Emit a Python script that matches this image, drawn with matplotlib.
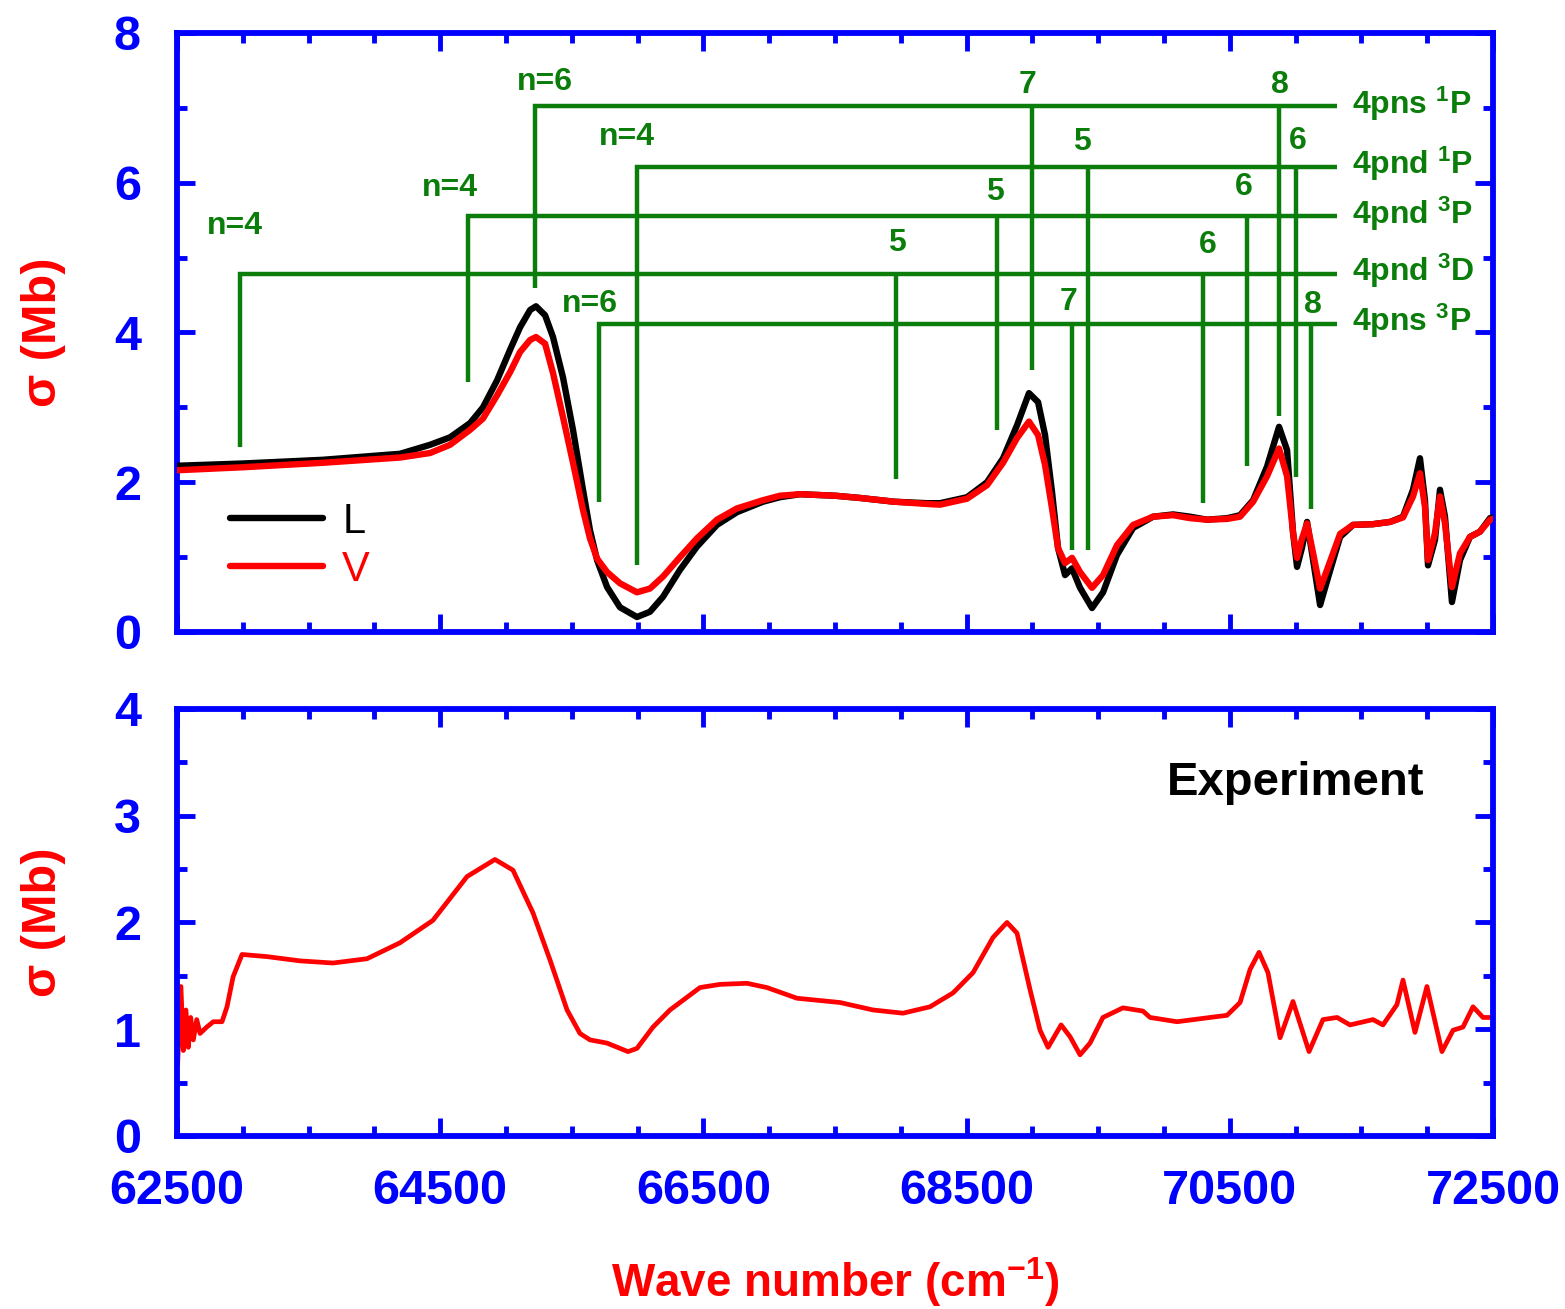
import matplotlib
matplotlib.use("Agg")
import matplotlib.pyplot as plt
from matplotlib.ticker import MultipleLocator

# ---------------------------------------------------------------- data
# theoretical cross sections, length (L) and velocity (V) gauge
theory_x = [62500, 63000, 63610, 64195, 64423, 64575, 64727, 64825, 64932, 65031,
            65107, 65183, 65228, 65297, 65357, 65433, 65509, 65585, 65638, 65692,
            65768, 65866, 65995, 66094, 66193, 66322, 66451, 66603, 66755, 66953,
            67082, 67234, 67500, 67690, 67950, 68199, 68298, 68503, 68655, 68777,
            68883, 68974, 69043, 69096, 69149, 69195, 69248, 69301, 69362, 69453,
            69537, 69643, 69765, 69917, 70069, 70198, 70327, 70480, 70578, 70677,
            70783, 70874, 70935, 70981, 71011, 71049, 71087, 71133, 71186, 71247,
            71338, 71436, 71588, 71718, 71816, 71892, 71945, 71983, 72006, 72059,
            72097, 72135, 72188, 72249, 72325, 72401, 72477, 72500]
sigma_L = [2.22, 2.25, 2.30, 2.38, 2.50, 2.60, 2.79, 3.00, 3.36, 3.77,
           4.07, 4.30, 4.35, 4.23, 3.94, 3.40, 2.70, 1.90, 1.36, 0.96,
           0.60, 0.33, 0.20, 0.27, 0.47, 0.83, 1.14, 1.43, 1.60, 1.74,
           1.80, 1.84, 1.82, 1.79, 1.74, 1.72, 1.72, 1.80, 2.00, 2.32,
           2.76, 3.19, 3.07, 2.63, 1.87, 1.12, 0.76, 0.85, 0.59, 0.32,
           0.53, 1.03, 1.39, 1.54, 1.57, 1.54, 1.50, 1.52, 1.56, 1.76,
           2.21, 2.74, 2.43, 1.32, 0.87, 1.13, 1.47, 0.96, 0.36, 0.73,
           1.27, 1.43, 1.44, 1.47, 1.54, 1.90, 2.32, 1.76, 0.89, 1.23,
           1.90, 1.54, 0.40, 0.96, 1.27, 1.34, 1.52, 1.53]
sigma_V = [2.16, 2.20, 2.26, 2.33, 2.39, 2.50, 2.70, 2.85, 3.16, 3.47,
           3.74, 3.90, 3.94, 3.85, 3.46, 2.87, 2.26, 1.63, 1.25, 0.98,
           0.80, 0.65, 0.53, 0.58, 0.74, 1.00, 1.25, 1.50, 1.65, 1.76,
           1.82, 1.84, 1.82, 1.79, 1.74, 1.71, 1.70, 1.78, 1.96, 2.26,
           2.59, 2.81, 2.63, 2.23, 1.65, 1.12, 0.92, 0.99, 0.80, 0.59,
           0.76, 1.16, 1.43, 1.54, 1.56, 1.52, 1.50, 1.51, 1.54, 1.74,
           2.08, 2.45, 2.08, 1.32, 0.99, 1.25, 1.45, 1.05, 0.58, 0.87,
           1.31, 1.43, 1.44, 1.47, 1.53, 1.81, 2.12, 1.67, 0.96, 1.32,
           1.81, 1.45, 0.60, 1.05, 1.27, 1.34, 1.50, 1.51]

# measured cross section
exp_x = [62505, 62530, 62548, 62568, 62586, 62604, 62624, 62650, 62675, 62726,
         62776, 62842, 62880, 62926, 62994, 63184, 63435, 63685, 63944, 64195,
         64445, 64704, 64916, 65053, 65205, 65334, 65464, 65562, 65638, 65767,
         65927, 65995, 66117, 66246, 66474, 66626, 66831, 66983, 67211, 67538,
         67789, 68017, 68222, 68397, 68549, 68701, 68807, 68883, 68982, 69058,
         69119, 69218, 69286, 69362, 69438, 69536, 69688, 69840, 69894, 70099,
         70350, 70479, 70578, 70654, 70722, 70790, 70882, 70980, 71102, 71208,
         71315, 71413, 71588, 71664, 71770, 71816, 71907, 71998, 72112, 72196,
         72272, 72348, 72424, 72493]
exp_sigma = [0.68, 1.40, 0.80, 1.18, 0.83, 1.11, 0.90, 1.09, 0.96, 1.02,
             1.07, 1.07, 1.21, 1.49, 1.70, 1.68, 1.64, 1.62, 1.66, 1.81,
             2.02, 2.43, 2.59, 2.49, 2.09, 1.65, 1.18, 0.96, 0.90, 0.87,
             0.79, 0.82, 1.02, 1.18, 1.39, 1.42, 1.43, 1.39, 1.29, 1.25,
             1.18, 1.15, 1.21, 1.34, 1.53, 1.86, 2.00, 1.90, 1.37, 0.99,
             0.83, 1.04, 0.93, 0.76, 0.87, 1.11, 1.20, 1.17, 1.11, 1.07,
             1.11, 1.13, 1.25, 1.56, 1.72, 1.53, 0.92, 1.26, 0.79, 1.09,
             1.11, 1.04, 1.09, 1.04, 1.23, 1.46, 0.97, 1.40, 0.79, 0.99,
             1.02, 1.21, 1.11, 1.11]

# Rydberg series: name, label level, state energies, state labels, marker ends
series_names = ["4pns $^{1}$P", "4pnd $^{1}$P", "4pnd $^{3}$P", "4pnd $^{3}$D", "4pns $^{3}$P"]
series_levels = [7.02, 6.21, 5.55, 4.78, 4.11]
series_states = [[65220, 68997, 70874],
                 [65995, 69422, 71003],
                 [64715, 68731, 70631],
                 [62979, 67964, 70296],
                 [65707, 69301, 71117]]
series_state_labels = [["n=6", "7", "8"],
                       ["n=4", "5", "6"],
                       ["n=4", "5", "6"],
                       ["n=4", "5", "6"],
                       ["n=6", "7", "8"]]
series_marker_ends = [[4.59, 3.50, 2.88],
                      [0.89, 1.09, 2.07],
                      [3.34, 2.70, 2.22],
                      [2.47, 2.04, 1.72],
                      [1.74, 1.09, 1.64]]
series_end_x = 71315

x_ticks = [62500, 64500, 66500, 68500, 70500, 72500]
x_tick_labels = ["62500", "64500", "66500", "68500", "70500", "72500"]
top_y_ticks = [0, 2, 4, 6, 8]
bottom_y_ticks = [0, 1, 2, 3, 4]

# ---------------------------------------------------------------- style
plt.rcParams["font.family"] = ["Liberation Sans", "DejaVu Sans"]
plt.rcParams["mathtext.fontset"] = "custom"
plt.rcParams["mathtext.rm"] = "Liberation Sans:bold"
plt.rcParams["mathtext.it"] = "Liberation Sans:bold"
plt.rcParams["mathtext.bf"] = "Liberation Sans:bold"

BLUE = "#0000ff"
RED = "#ff0000"
GREEN = "#0b7d0b"

fig = plt.figure(figsize=(15.65, 13.09), dpi=100)
ax1 = fig.add_axes([0.1131, 0.5172, 0.8409, 0.4576])
ax2 = fig.add_axes([0.1131, 0.1322, 0.8409, 0.3262])


def frame(ax, ymax, yticks, yminor, show_xlabels):
    ax.set_xlim(62500, 72500)
    ax.set_ylim(0, ymax)
    for sp in ax.spines.values():
        sp.set_color(BLUE)
        sp.set_linewidth(4.2)
    ax.set_xticks(x_ticks, labels=x_tick_labels if show_xlabels else [],
                  fontweight="bold")
    ax.set_yticks(yticks, labels=[str(v) for v in yticks], fontweight="bold")
    ax.xaxis.set_minor_locator(MultipleLocator(500))
    ax.yaxis.set_minor_locator(MultipleLocator(yminor))
    ax.tick_params(which="both", direction="in", top=True, right=True,
                   color=BLUE, width=3.5)
    ax.tick_params(which="major", length=13)
    ax.tick_params(which="minor", length=7.5)
    ax.tick_params(axis="both", labelsize=35, labelcolor=BLUE)
    ax.tick_params(axis="x", pad=24)
    ax.tick_params(axis="y", pad=26)
    ax.set_ylabel("\u03c3 (Mb)", color=RED, fontsize=35, fontweight="bold")
    ax.yaxis.set_label_coords(-0.084, 0.5)


frame(ax1, 8, top_y_ticks, 1, False)
frame(ax2, 4, bottom_y_ticks, 0.5, True)

# ---------------------------------------------------------------- top panel
ax1.plot(theory_x, sigma_L, color="black", lw=4.6, label="L",
         solid_joinstyle="round", solid_capstyle="round", zorder=3)
ax1.plot(theory_x, sigma_V, color=RED, lw=4.6, label="V",
         solid_joinstyle="round", solid_capstyle="round", zorder=4)

# label placement for the series markers (offsets from state / level)
label_dx = [[76, -38, 7], [-76, -45, 15], [-141, -15, -23], [-38, 7, 38], [-69, -30, 15]]
label_dy = [[0.32, 0.28, 0.28], [0.40, 0.33, 0.35], [0.38, 0.33, 0.39],
            [0.64, 0.41, 0.39], [0.27, 0.30, 0.26]]

for i, name in enumerate(series_names):
    lvl = series_levels[i]
    xs = series_states[i]
    ends = series_marker_ends[i]
    ax1.plot([xs[0], xs[0], series_end_x], [ends[0], lvl, lvl], color=GREEN,
             lw=3.2, solid_joinstyle="miter", solid_capstyle="butt", zorder=2)
    for x, e in zip(xs[1:], ends[1:]):
        ax1.plot([x, x], [e, lvl], color=GREEN, lw=3.2,
                 solid_capstyle="butt", zorder=2)
    for j, (x, lab) in enumerate(zip(xs, series_state_labels[i])):
        ax1.text(x + label_dx[i][j], lvl + label_dy[i][j], lab, color=GREEN,
                 fontsize=23, fontweight="bold", ha="center", va="center")
    ax1.text(71430, lvl + 0.04, name, color=GREEN, fontsize=23,
             fontweight="bold", ha="left", va="center")

ax1.legend(loc="center left", bbox_to_anchor=(0.040, 0.144), frameon=False,
           fontsize=30, handlelength=2.25, handletextpad=0.45, labelspacing=0.2,
           borderpad=0, borderaxespad=0, labelcolor="linecolor")

# ---------------------------------------------------------------- bottom panel
ax2.plot(exp_x, exp_sigma, color=RED, lw=3.4, solid_joinstyle="round")
ax2.text(70023, 3.31, "Experiment", color="black", fontsize=34,
         fontweight="bold", ha="left", va="center")

fig.text(0.534, 0.0095, "Wave number (cm$^{-1}$)", color=RED, fontsize=33,
         fontweight="bold", ha="center", va="baseline")

fig.savefig("out.png", dpi=100)
